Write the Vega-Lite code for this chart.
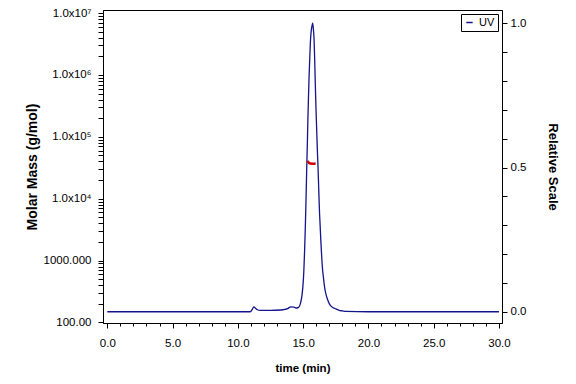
{
  "$schema": "https://vega.github.io/schema/vega-lite/v6.json",
  "width": 399,
  "height": 313,
  "autosize": {"type": "none"},
  "padding": {"left": 103, "top": 10, "right": 74, "bottom": 61},
  "background": "white",
  "config": {
    "view": {"stroke": "black", "strokeWidth": 1},
    "font": "Liberation Sans",
    "axis": {
      "grid": false,
      "domainColor": "black",
      "labelColor": "black",
      "titleColor": "black",
      "labelFont": "Liberation Sans",
      "labelFontSize": 11.5,
      "titleFont": "Liberation Sans",
      "titleFontWeight": "bold",
      "labelOverlap": false
    }
  },
  "datasets": {
    "uv": [
      {"time": 0, "uv": 0}, {"time": 5, "uv": 0}, {"time": 10, "uv": 0}, {"time": 10.95, "uv": 0},
      {"time": 11.1, "uv": 0.008}, {"time": 11.22, "uv": 0.017}, {"time": 11.35, "uv": 0.012},
      {"time": 11.5, "uv": 0.007}, {"time": 11.7, "uv": 0.005}, {"time": 12.5, "uv": 0.005},
      {"time": 13.3, "uv": 0.006}, {"time": 13.6, "uv": 0.008}, {"time": 13.85, "uv": 0.012},
      {"time": 14.05, "uv": 0.017}, {"time": 14.3, "uv": 0.016}, {"time": 14.5, "uv": 0.013},
      {"time": 14.65, "uv": 0.015}, {"time": 14.8, "uv": 0.03}, {"time": 14.92, "uv": 0.06},
      {"time": 15.0, "uv": 0.1}, {"time": 15.06, "uv": 0.15}, {"time": 15.11, "uv": 0.21},
      {"time": 15.17, "uv": 0.3}, {"time": 15.22, "uv": 0.39}, {"time": 15.27, "uv": 0.49},
      {"time": 15.32, "uv": 0.58}, {"time": 15.36, "uv": 0.66}, {"time": 15.4, "uv": 0.73},
      {"time": 15.45, "uv": 0.81}, {"time": 15.5, "uv": 0.87}, {"time": 15.55, "uv": 0.93},
      {"time": 15.6, "uv": 0.965}, {"time": 15.65, "uv": 0.985}, {"time": 15.7, "uv": 0.995},
      {"time": 15.73, "uv": 1.0}, {"time": 15.76, "uv": 0.99}, {"time": 15.8, "uv": 0.97},
      {"time": 15.83, "uv": 0.95}, {"time": 15.88, "uv": 0.88}, {"time": 15.93, "uv": 0.79},
      {"time": 15.98, "uv": 0.71}, {"time": 16.03, "uv": 0.64}, {"time": 16.08, "uv": 0.57},
      {"time": 16.14, "uv": 0.5}, {"time": 16.19, "uv": 0.43}, {"time": 16.24, "uv": 0.36},
      {"time": 16.3, "uv": 0.3}, {"time": 16.35, "uv": 0.25}, {"time": 16.41, "uv": 0.2},
      {"time": 16.47, "uv": 0.155}, {"time": 16.55, "uv": 0.12}, {"time": 16.65, "uv": 0.083},
      {"time": 16.75, "uv": 0.06}, {"time": 16.85, "uv": 0.045}, {"time": 17.0, "uv": 0.028},
      {"time": 17.1, "uv": 0.021}, {"time": 17.3, "uv": 0.014}, {"time": 17.5, "uv": 0.01},
      {"time": 17.75, "uv": 0.005}, {"time": 18.0, "uv": 0.003}, {"time": 18.3, "uv": 0.001},
      {"time": 20, "uv": 0}, {"time": 25, "uv": 0}, {"time": 30, "uv": 0}
    ],
    "mm": [
      {"time": 15.33, "mass": 40600}, {"time": 15.38, "mass": 39500}, {"time": 15.45, "mass": 37800},
      {"time": 15.55, "mass": 37000}, {"time": 15.7, "mass": 36800}, {"time": 15.85, "mass": 36800},
      {"time": 15.96, "mass": 37200}
    ]
  },
  "layer": [
    {
      "data": {"name": "uv"},
      "mark": {"type": "line", "strokeWidth": 1.3, "interpolate": "monotone"},
      "encoding": {
        "x": {
          "field": "time", "type": "quantitative",
          "scale": {"domain": [-0.33, 30.23], "nice": false, "zero": false},
          "axis": {
            "orient": "bottom",
            "title": "time (min)",
            "titleFontSize": 11.5,
            "titlePadding": 14,
            "values": [0, 5, 10, 15, 20, 25, 30],
            "format": ".1f",
            "ticks": true,
            "tickColor": "#000000",
            "tickWidth": 1,
            "tickSize": 5,
            "labelPadding": 9
          }
        },
        "y": {
          "field": "uv", "type": "quantitative",
          "scale": {"domain": [-0.039, 1.046], "nice": false, "zero": false},
          "axis": {
            "orient": "right",
            "title": "Relative Scale",
            "titleFontSize": 13,
            "titleAngle": 90,
            "titlePadding": 20,
            "values": [0,0.1,0.2,0.3,0.4,0.5,0.6,0.7,0.8,0.9,1],
            "labelExpr": "datum.value === 0 || datum.value === 0.5 || datum.value === 1 ? format(datum.value, '.1f') : ''",
            "ticks": true,
            "tickColor": "#000000",
            "tickWidth": 1,
            "tickSize": 5,
            "labelPadding": 3
          }
        },
        "color": {
          "datum": "UV",
          "scale": {"range": ["#14148c"]},
          "legend": {
            "title": null,
            "orient": "top-right",
            "offset": 4,
            "strokeColor": "black",
            "fillColor": "white",
            "padding": 3,
            "symbolType": "stroke",
            "symbolSize": 40,
            "symbolStrokeWidth": 1.5,
            "labelFontSize": 11,
            "labelFont": "Liberation Sans",
            "labelColor": "black"
          }
        }
      }
    },
    {
      "data": {"name": "mm"},
      "mark": {"type": "line", "color": "#d40000", "strokeWidth": 2.5},
      "encoding": {
        "x": {
          "field": "time", "type": "quantitative",
          "axis": {
            "orient": "bottom",
            "title": null,
            "values": [1,2,3,4,6,7,8,9,11,12,13,14,16,17,18,19,21,22,23,24,26,27,28,29],
            "labels": false,
            "domain": false,
            "ticks": true,
            "tickColor": "#000000",
            "tickWidth": 1,
            "tickSize": 3
          }
        },
        "y": {
          "field": "mass", "type": "quantitative",
          "scale": {"type": "log", "domain": [98, 11200000], "nice": false},
          "axis": {
            "orient": "left",
            "title": "Molar Mass (g/mol)",
            "titleFontSize": 14,
            "titlePadding": 4,
            "values": [100,200,300,400,500,600,700,800,900,1000,2000,3000,4000,5000,6000,7000,8000,9000,10000,20000,30000,40000,50000,60000,70000,80000,90000,100000,200000,300000,400000,500000,600000,700000,800000,900000,1000000,2000000,3000000,4000000,5000000,6000000,7000000,8000000,9000000,10000000],
            "labelExpr": "datum.value === 100 ? '100.00' : datum.value === 1000 ? '1000.000' : datum.value === 10000 ? '1.0x10⁴' : datum.value === 100000 ? '1.0x10⁵' : datum.value === 1000000 ? '1.0x10⁶' : datum.value === 10000000 ? '1.0x10⁷' : ''",
            "ticks": true,
            "tickColor": "#000000",
            "tickWidth": 1,
            "tickSize": 5,
            "labelPadding": 7
          }
        }
      }
    }
  ],
  "resolve": {"scale": {"y": "independent", "color": "independent"}, "axis": {"x": "independent"}}
}
